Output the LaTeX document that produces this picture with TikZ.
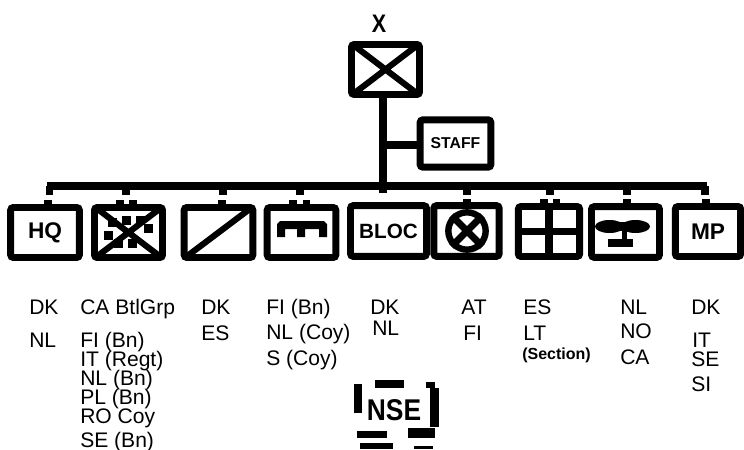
\documentclass[tikz,border=0pt]{standalone}
\usepackage{graphicx}
\usepackage{fontspec}
\setmainfont{Liberation Sans}
\begin{document}
\begin{tikzpicture}[x=0.75pt,y=-0.75pt,
  unit/.style={draw=black,line width=5.2pt,rounded corners=2pt,inner sep=0pt,fill=white,font=\bfseries\fontsize{15.5}{15.5}\selectfont},
  bigtag/.style={font=\bfseries\fontsize{17}{17}\selectfont},
  link/.style={line width=5.6pt,line cap=butt},
  tickbit/.style={fill=black,draw=none,inner sep=0pt,minimum width=5.6pt,minimum height=3.2pt},
  symbit/.style={line width=4.6pt},
  lab/.style={anchor=base west,inner sep=0pt,font=\fontsize{15.8}{15.8}\selectfont},
  frag/.style={fill=black,draw=none}]
\useasboundingbox (0,0) rectangle (744,450);
\node[inner sep=0pt,font=\bfseries\fontsize{19}{19}\selectfont] (x) at (379,24) {\scalebox{0.85}[1]{X}};
\node[unit,minimum width=51pt,minimum height=37.5pt] (top) at (385.5,69.5) {};
\node[unit,minimum width=53pt,minimum height=35.5pt,font=\bfseries\fontsize{11.8}{11.8}\selectfont] (staff) at (455.5,143.5) {STAFF};
\node[unit,bigtag,minimum width=51.5pt,minimum height=37.5pt] (u1) at (45,232.5) {HQ};
\node[unit,minimum width=51pt,minimum height=37.5pt] (u2) at (128.5,232.5) {};
\node[unit,minimum width=51.5pt,minimum height=37.5pt] (u3) at (218.5,232.5) {};
\node[unit,minimum width=51.5pt,minimum height=37.5pt] (u4) at (301.5,232.5) {};
\node[unit,minimum width=57pt,minimum height=38pt] (u5) at (388.5,231) {BLOC};
\node[unit,minimum width=49pt,minimum height=38pt] (u6) at (466.5,231) {};
\node[unit,minimum width=46pt,minimum height=37.5pt] (u7) at (549,231.5) {};
\node[unit,minimum width=51pt,minimum height=38pt] (u8) at (625.5,232) {};
\node[unit,bigtag,minimum width=49pt,minimum height=37.5pt] (u9) at (708,231.5) {MP};
% bus and links
\coordinate (trunk) at (383,186);
\coordinate (staffj) at (383,145);
\draw[link] (top.south -| trunk) -- (383,193);
\draw[link] (staffj) -- (staffj -| staff.west);
\draw[link] (47,186) -- (707,186);
\foreach \xx in {49.5,126,223,300,467,550,627,705}{
  \draw[link] (\xx,186) -- (\xx,195);
}
% ticks on the boxes
\foreach \xx/\yy in {48/202.5,120/202.5,133/202.5,222/202.5,293/202.5,306.5/202.5,467/201,544/201,556.5/201,627/201,706/201}{
  \node[tickbit] at (\xx,\yy) {};
}
% dots behind the cross, then crosses clipped inside their box frames
\foreach \xx/\yy in {112/222,126/220,140/220,148/228,108/235,118/243,132/243}{
  \fill (\xx-4.5,\yy-4.5) rectangle (\xx+4.5,\yy+4.5);
}
\begin{scope}
  \clip ([shift={(3,3)}]top.north west) rectangle ([shift={(-3,-3)}]top.south east);
  \draw[symbit] (top.north west) -- (top.south east) (top.north east) -- (top.south west);
\end{scope}
\begin{scope}
  \clip ([shift={(3,3)}]u2.north west) rectangle ([shift={(-3,-3)}]u2.south east);
  \draw[symbit] (u2.north west) -- (u2.south east) (u2.north east) -- (u2.south west);
\end{scope}
% armour diagonal
\begin{scope}
  \clip ([shift={(3,3)}]u3.north west) rectangle ([shift={(-3,-3)}]u3.south east);
  \draw[symbit] (u3.south west) -- (u3.north east);
\end{scope}
% arch symbol
\fill (277,224) -- (280,221) -- (324,221) -- (327,224) -- (327,237) -- (319,237) -- (319,229) -- (305,229) -- (305,237) -- (297,237) -- (297,229) -- (285,229) -- (285,237) -- (277,237) -- cycle;
% circle with cross
\node[draw=black,line width=4.8pt,circle,minimum size=28pt,inner sep=0pt,fill=white] (ring) at (467,231) {};
\draw[symbit,line width=5.2pt] (ring.north west) -- (ring.south east) (ring.north east) -- (ring.south west);
% cross in box 7
\draw[symbit,line width=5.4pt] (u7.north) -- (u7.south) (u7.west) -- (u7.east);
% propeller
\fill (609.5,226.5) ellipse [x radius=14.5,y radius=6.5];
\fill (635.5,226.5) ellipse [x radius=14.5,y radius=6.5];
\fill (615,222) rectangle (630,231);
\fill (621.5,230) rectangle (626.5,240);
\fill (608,239) rectangle (633,247);
% labels
\foreach \xx/\yy/\lbl in {29/314/DK,29/347/NL,80/314/CA BtlGrp,80/347/FI (Bn),80/366/IT (Regt),80/385/NL (Bn),80/404/PL (Bn),80/423/RO Coy,80/447/SE (Bn),
  201/314/DK,201/340/ES,266/314/FI (Bn),266/339/NL (Coy),266/365/S (Coy),370/314/DK,372/335/NL,461/314/AT,463/340/FI,523/314/ES,523/340/LT,620/314/NL,620/338/NO,620/364/CA,691/314/DK,692/347/IT,691/366/SE,691/391/SI}{
  \node[lab] at (\xx,\yy) {\lbl};
}
\node[lab,font=\bfseries\fontsize{12}{12}\selectfont] (sect) at (522,359) {(Section)};
% NSE
\fill[frag] (354,384) rectangle (362,413);
\fill[frag] (375,380) rectangle (404,388);
\fill[frag] (426,382) rectangle (435,388);
\fill[frag] (430,388) rectangle (439,427);
\fill[frag] (357,431) rectangle (387,438);
\fill[frag] (408,428) rectangle (435,438);
\fill[frag] (360,443) rectangle (393,449);
\fill[frag] (414,446) rectangle (433,449);
\node[inner sep=0pt,anchor=base,font=\bfseries\fontsize{22.5}{22.5}\selectfont] (nse) at (394,420) {\scalebox{0.88}[1]{NSE}};
\end{tikzpicture}
\end{document}
